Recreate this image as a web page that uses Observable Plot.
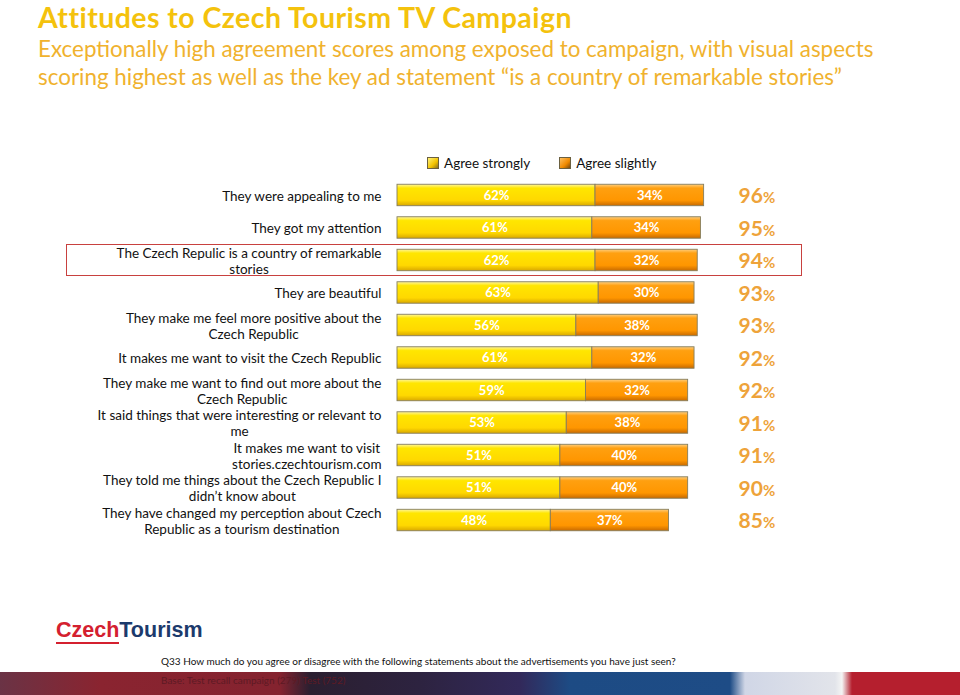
<!DOCTYPE html>
<html>
<head>
<meta charset="utf-8">
<script src="https://cdn.jsdelivr.net/npm/d3@7"></script>
<script src="https://cdn.jsdelivr.net/npm/@observablehq/plot@0.6"></script>
<style>
  html, body { margin: 0; padding: 0; background: #fff; }
  #page { position: relative; width: 960px; height: 695px; overflow: hidden; font-family: Lato, "Open Sans", sans-serif; }
  .abs { position: absolute; white-space: nowrap; }
  #title { left: 38px; top: 4px; font-size: 28.5px; letter-spacing: 0.45px; font-weight: 700; color: #f4c20d; line-height: 26px; }
  #subtitle { left: 38px; top: 35px; font-size: 22.4px; color: #f0b22e; line-height: 28px; }
  #legend { left: 427px; top: 154px; font-size: 13.5px; color: #111; line-height: 18px; }
  .sw { display: inline-block; width: 10px; height: 10px; border: 1px solid #6b6040; vertical-align: -1px; margin-right: 5px; }
  #chart { position: absolute; left: 0; top: 160px; }
  #highlight { left: 66px; top: 243.5px; width: 734px; height: 30px; border: 1.5px solid #c8413f; }
  #logo { left: 56px; top: 618px; font-family: "Liberation Sans", Arial, sans-serif; font-weight: 700; font-size: 21.5px; letter-spacing: 0px; line-height: 24px; }
  #logo .cz { color: #d4202f; border-bottom: 2px solid #d4202f; }
  #logo .to { color: #1c3a6c; }
  #band { left: 0; top: 672px; width: 960px; height: 23px;
    background: linear-gradient(90deg, #6a3345 0px, #8a2430 100px, #84232f 280px, #2b1f30 310px, #2d2340 420px, #32295a 520px, #1d4b84 570px, #1e4c86 730px, #d0d6e6 745px, #e2e4ea 835px, #f4f4f4 842px, #b51f2e 852px, #b51f2e 960px); }
  #q33 { left: 161px; top: 655px; font-size: 10px; color: #111; }
  #base { left: 161px; top: 674px; font-size: 10px; color: #5e1a24; }
</style>
</head>
<body>
<div id="page">
  <div class="abs" id="title">Attitudes to Czech Tourism TV Campaign</div>
  <div class="abs" id="subtitle">Exceptionally high agreement scores among exposed to campaign, with visual aspects<br>scoring highest as well as the key ad statement “is a country of remarkable stories”</div>
  <div class="abs" id="legend"><span class="sw" style="background:linear-gradient(135deg,#fff27a,#f2c200 60%,#8a7020)"></span>Agree strongly<span style="display:inline-block;width:29px"></span><span class="sw" style="background:linear-gradient(135deg,#ffc060,#f08a00 60%,#7a4a10)"></span>Agree slightly</div>
  <div id="chart"></div>
  <div class="abs" id="highlight"></div>
  <div class="abs" id="logo"><span class="cz">Czech</span><span class="to">Tourism</span></div>
  <div class="abs" id="band"></div>
  <div class="abs" id="q33">Q33 How much do you agree or disagree with the following statements about the advertisements you have just seen?</div>
  <div class="abs" id="base">Base: Test recall campaign (279) Test (752)</div>
</div>
<script>
const statements = [
  "They were appealing to me",
  "They got my attention",
  "The Czech Repulic is a country of remarkable\nstories",
  "They are beautiful",
  "They make me feel more positive about the\nCzech Republic",
  "It makes me want to visit the Czech Republic",
  "They make me want to find out more about the\nCzech Republic",
  "It said things that were interesting or relevant to\nme",
  "It makes me want to visit\nstories.czechtourism.com",
  "They told me things about the Czech Republic I\ndidn’t know about",
  "They have changed my perception about Czech\nRepublic as a tourism destination"
];
const seriesNames = ["Agree strongly", "Agree slightly"];
const agreeStrongly = [62, 61, 62, 63, 56, 61, 59, 53, 51, 51, 48];
const agreeSlightly = [34, 34, 32, 30, 38, 32, 32, 38, 40, 40, 37];
const totals = [96, 95, 94, 93, 93, 92, 92, 91, 91, 90, 85];

const rows = statements.flatMap((s, i) => [
  {label: s, series: seriesNames[0], value: agreeStrongly[i]},
  {label: s, series: seriesNames[1], value: agreeSlightly[i]}
]);
const totalRows = statements.map((s, i) => ({label: s, total: totals[i]}));

const defs = () => {
  const d = document.createElementNS("http://www.w3.org/2000/svg", "defs");
  d.innerHTML = `
    <linearGradient id="gy" x1="0" y1="0" x2="0" y2="1">
      <stop offset="0" stop-color="#fff6a0"/>
      <stop offset="0.18" stop-color="#ffe600"/>
      <stop offset="0.75" stop-color="#ffd800"/>
      <stop offset="1" stop-color="#d9a800"/>
    </linearGradient>
    <linearGradient id="go" x1="0" y1="0" x2="0" y2="1">
      <stop offset="0" stop-color="#ffcf80"/>
      <stop offset="0.18" stop-color="#ffa010"/>
      <stop offset="0.75" stop-color="#ff9600"/>
      <stop offset="1" stop-color="#c86a00"/>
    </linearGradient>`;
  return d;
};

const chart = Plot.plot({
  width: 960,
  height: 392,
  marginTop: 13.2,
  marginBottom: 10.2,
  marginLeft: 397,
  marginRight: 243.6,
  style: {fontFamily: "Lato, 'Open Sans', sans-serif", fontSize: "13.5px", color: "#000", background: "transparent"},
  x: {domain: [0, 100], axis: null},
  y: {domain: statements, padding: 0.34, round: false, axis: null},
  color: {domain: seriesNames, range: ["url(#gy)", "url(#go)"]},
  marks: [
    defs,
    Plot.barX(rows, Plot.stackX({x: "value", y: "label", fill: "series", stroke: "#857d5c", strokeWidth: 0.9, order: null})),
    Plot.text(rows, Plot.stackX({x: "value", y: "label", text: d => d.value + "%", fill: "white", fontWeight: "bold", fontSize: 13, order: null})),
    Plot.text(statements, {y: d => d, text: d => d, frameAnchor: "left", textAnchor: "end", dx: -16, lineHeight: 1.2, fill: "#111", fontSize: 13.5}),
    Plot.text(totalRows, {y: "label", text: d => String(d.total), frameAnchor: "right", textAnchor: "end", dx: 46, dy: 1, fontSize: 21, fontWeight: "bold", fill: "#eea33a"}),
    Plot.text(totalRows, {y: "label", text: d => "%", frameAnchor: "right", textAnchor: "start", dx: 46, dy: 3, fontSize: 15, fontWeight: "bold", fill: "#eea33a"})
  ]
});
document.getElementById("chart").appendChild(chart);

// center the lines of multi-line labels on their widest line
chart.querySelectorAll("text").forEach(t => {
  const spans = t.querySelectorAll("tspan");
  if (spans.length < 2) return;
  const w = Array.from(spans, s => s.getComputedTextLength());
  const m = Math.max(...w);
  const base = parseFloat(spans[0].getAttribute("x") ?? t.getAttribute("x")) || 0;
  spans.forEach((s, i) => s.setAttribute("x", base - (m - w[i]) / 2));
});
</script>
</body>
</html>
